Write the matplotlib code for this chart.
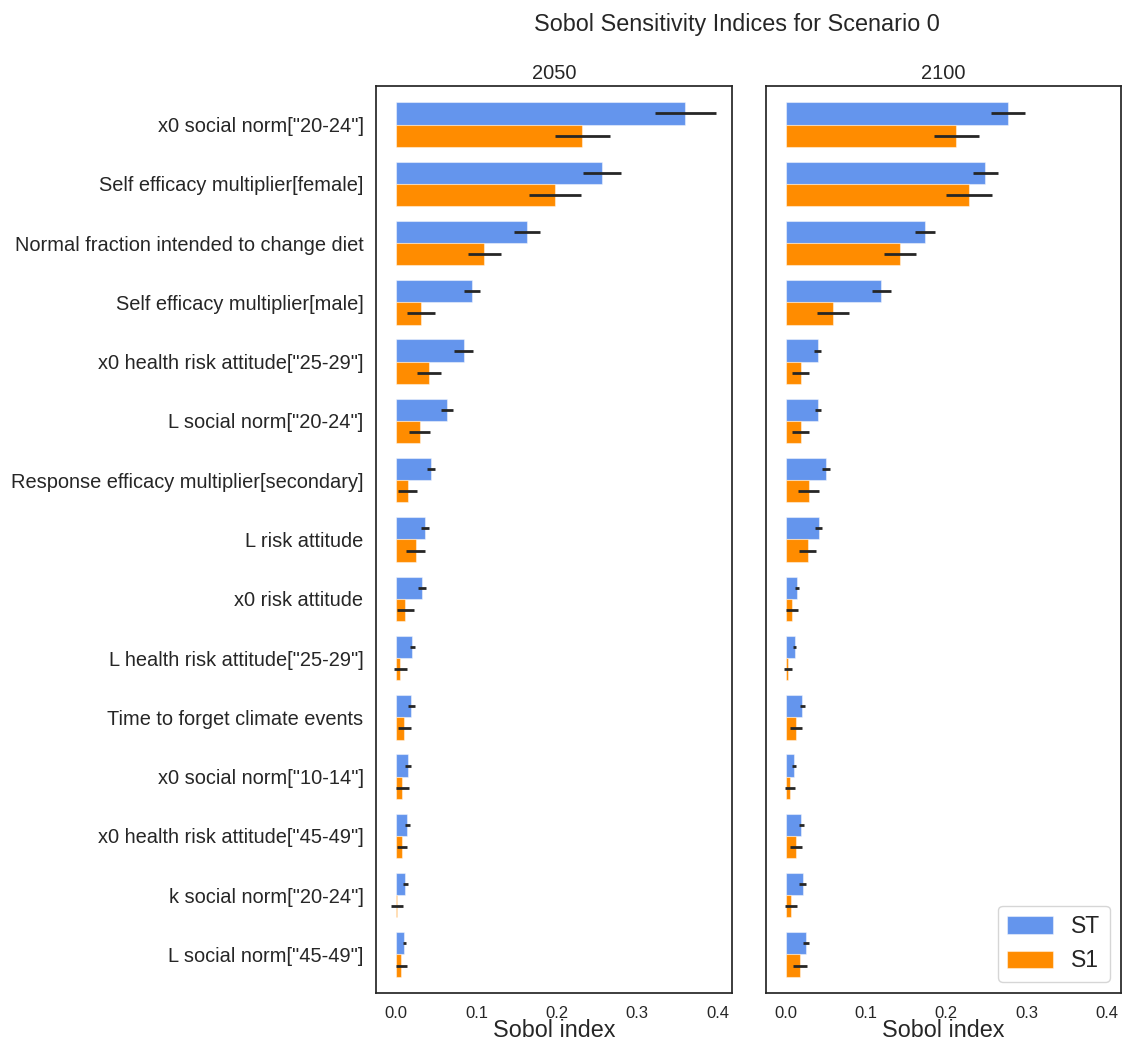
import numpy as np
import matplotlib
matplotlib.use("Agg")
import matplotlib.pyplot as plt

plt.rcParams['font.family'] = ['Liberation Sans', 'DejaVu Sans']
plt.rcParams['text.color'] = '.15'
plt.rcParams['axes.labelcolor'] = '.15'
plt.rcParams['xtick.color'] = '.15'
plt.rcParams['ytick.color'] = '.15'

params = ['x0 social norm["20-24"]', 'Self efficacy multiplier[female]',
          'Normal fraction intended to change diet', 'Self efficacy multiplier[male]',
          'x0 health risk attitude["25-29"]', 'L social norm["20-24"]',
          'Response efficacy multiplier[secondary]', 'L risk attitude',
          'x0 risk attitude', 'L health risk attitude["25-29"]',
          'Time to forget climate events', 'x0 social norm["10-14"]',
          'x0 health risk attitude["45-49"]', 'k social norm["20-24"]',
          'L social norm["45-49"]']

# 2050
st_2050 = [0.360, 0.256, 0.1625, 0.0946, 0.0842, 0.0633, 0.0438, 0.0363,
           0.0325, 0.0204, 0.019, 0.015, 0.0137, 0.0112, 0.0104]
st_2050_conf = [0.038, 0.024, 0.016, 0.010, 0.012, 0.007, 0.005, 0.005,
                0.005, 0.0035, 0.004, 0.0035, 0.003, 0.003, 0.002]
s1_2050 = [0.2317, 0.198, 0.110, 0.0308, 0.0404, 0.0292, 0.0142, 0.0242,
           0.0117, 0.005, 0.010, 0.0075, 0.0075, 0.001, 0.0063]
s1_2050_conf = [0.034, 0.032, 0.020, 0.017, 0.015, 0.013, 0.012, 0.012,
                0.010, 0.008, 0.008, 0.008, 0.0065, 0.007, 0.007]

# 2100
st_2100 = [0.2766, 0.2488, 0.1735, 0.1188, 0.0393, 0.0401, 0.0493, 0.041,
           0.0137, 0.0108, 0.0203, 0.0099, 0.019, 0.0207, 0.0248]
st_2100_conf = [0.021, 0.0155, 0.013, 0.012, 0.0045, 0.004, 0.005, 0.0045,
                0.003, 0.002, 0.003, 0.002, 0.003, 0.004, 0.004]
s1_2100 = [0.2124, 0.2286, 0.1425, 0.0584, 0.0182, 0.0182, 0.0282, 0.027,
           0.0075, 0.0025, 0.0124, 0.005, 0.012, 0.0062, 0.0178]
s1_2100_conf = [0.028, 0.029, 0.020, 0.020, 0.011, 0.011, 0.013, 0.011,
                0.007, 0.0055, 0.007, 0.006, 0.0075, 0.0075, 0.0087]

years = ['2050', '2100']
results = [(st_2050, st_2050_conf, s1_2050, s1_2050_conf),
           (st_2100, st_2100_conf, s1_2100, s1_2100_conf)]

W, H = 1123, 1043
fig = plt.figure(figsize=(W / 100, H / 100), dpi=100)
ax1 = fig.add_axes([376 / W, 50 / H, 356 / W, 907 / H])
ax2 = fig.add_axes([766 / W, 50 / H, 355 / W, 907 / H], sharey=ax1)

y = np.arange(len(params))
h = 0.375
edge = (1, 1, 1, 0.45)
err_kw = dict(ecolor='#262626', elinewidth=2.0, capsize=0)
for ax, year, (st, st_c, s1, s1_c) in zip([ax1, ax2], years, results):
    ax.barh(y - h / 2, st, height=h, xerr=st_c, color='cornflowerblue',
            edgecolor=edge, linewidth=0.8, label='ST', error_kw=err_kw)
    ax.barh(y + h / 2, s1, height=h, xerr=s1_c, color='darkorange',
            edgecolor=edge, linewidth=0.8, label='S1', error_kw=err_kw)
    ax.set_title(year, fontsize=14.4, pad=5)
    ax.set_xlim(-0.025, 0.418)
    ax.set_xticks([0.0, 0.1, 0.2, 0.3, 0.4])
    ax.set_xlabel('Sobol index', fontsize=16.8, labelpad=-1)
    ax.tick_params(length=0, labelsize=12, pad=9)
    for sp in ax.spines.values():
        sp.set_color('.15')
        sp.set_linewidth(1.25)

ax1.set_yticks(y)
ax1.set_yticklabels(params, fontsize=14.4)
ax1.set_ylim(14.65, -0.65)
ax2.tick_params(axis='y', labelleft=False)

leg = ax2.legend(loc='lower right', fontsize=16.5, frameon=True,
                 borderaxespad=0.5, handleheight=0.8)
leg.get_frame().set_edgecolor('0.8')

fig.text(736.5 / W, 1 - 24 / H, 'Sobol Sensitivity Indices for Scenario 0',
         ha='center', va='center', fontsize=16.8)

fig.savefig('out.png', dpi=100)
